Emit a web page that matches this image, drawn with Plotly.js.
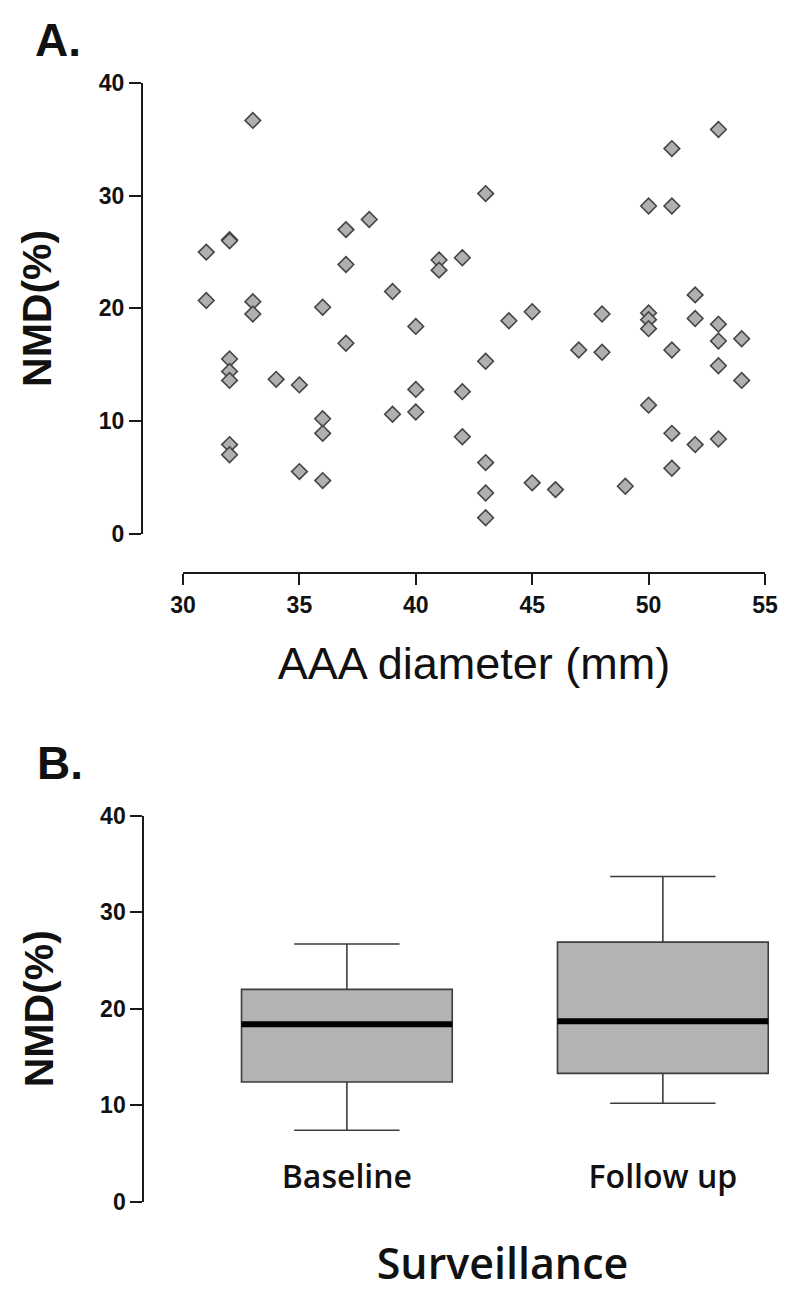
<!DOCTYPE html>
<html><head><meta charset="utf-8">
<script src="https://cdn.plot.ly/plotly-3.0.1.min.js"></script>
<style>html,body{margin:0;padding:0;background:#fff}#chart{width:800px;height:1301px}</style>
</head><body><div id="chart"></div>
<script>
// ---- Panel A data: AAA diameter (mm) vs NMD (%) ----
const aaaDiameter = [
  31, 31,
  32, 32, 32, 32, 32, 32, 32,
  33, 33, 33,
  34,
  35, 35,
  36, 36, 36, 36,
  37, 37, 37,
  38,
  39, 39,
  40, 40, 40,
  41, 41,
  42, 42, 42,
  43, 43, 43, 43, 43,
  44,
  45, 45,
  46,
  47,
  48, 48,
  49,
  50, 50, 50, 50, 50,
  51, 51, 51, 51, 51,
  52, 52, 52,
  53, 53, 53, 53, 53,
  54, 54
];
const nmdPercent = [
  25.0, 20.7,
  26.1, 26.0, 15.5, 14.4, 13.6, 7.9, 7.0,
  36.7, 20.6, 19.5,
  13.7,
  13.2, 5.5,
  20.1, 10.2, 8.9, 4.7,
  27.0, 23.9, 16.9,
  27.9,
  21.5, 10.6,
  18.4, 12.8, 10.8,
  24.3, 23.4,
  24.5, 12.6, 8.6,
  30.2, 15.3, 6.3, 3.6, 1.4,
  18.9,
  19.7, 4.5,
  3.9,
  16.3,
  19.5, 16.1,
  4.2,
  29.1, 19.6, 19.0, 18.2, 11.4,
  34.2, 29.1, 16.3, 8.9, 5.8,
  21.2, 19.1, 7.9,
  35.9, 18.6, 17.1, 14.9, 8.4,
  17.3, 13.6
];
const xTicksA = [30, 35, 40, 45, 50, 55];
const yTicks = [0, 10, 20, 30, 40];

// ---- Panel B data: box summary ----
const boxCategories = ['Baseline', 'Follow up'];
const boxPositions = [0, 1];
const boxLowerWhisker = [7.4, 10.2];
const boxQ1 = [12.4, 13.3];
const boxMedian = [18.4, 18.7];
const boxQ3 = [22.0, 26.9];
const boxUpperWhisker = [26.7, 33.7];

// ---- layout helpers (pixel -> paper) ----
const W = 800, H = 1301;
const fx = p => p / W;
const fy = p => 1 - p / H;
const BOX_W = 0.667;

const axisCol = '#1a1a1a';
const tickFont = {family: 'Liberation Sans, Arial, sans-serif', size: 23, color: '#111', weight: 'bold'};

const medX = [], medY = [];
boxPositions.forEach((p, i) => {
  medX.push(p - BOX_W / 2, p + BOX_W / 2, null);
  medY.push(boxMedian[i], boxMedian[i], null);
});

const traces = [
  {
    type: 'scatter', mode: 'markers',
    x: aaaDiameter, y: nmdPercent,
    xaxis: 'x', yaxis: 'y',
    cliponaxis: false,
    marker: {symbol: 'diamond', size: 12, color: '#b0b0b0', line: {color: '#454545', width: 1.6}},
    hoverinfo: 'x+y'
  },
  {
    type: 'box',
    x: boxPositions,
    q1: boxQ1, median: boxMedian, q3: boxQ3,
    lowerfence: boxLowerWhisker, upperfence: boxUpperWhisker,
    xaxis: 'x2', yaxis: 'y2',
    width: BOX_W, whiskerwidth: 0.5,
    fillcolor: '#b3b3b3',
    line: {color: '#3c3c3c', width: 1.6},
    boxpoints: false
  },
  {
    type: 'scatter', mode: 'lines',
    x: medX, y: medY,
    xaxis: 'x2', yaxis: 'y2',
    line: {color: '#000', width: 6},
    hoverinfo: 'skip'
  }
];

const baseAxis = {
  showgrid: false, zeroline: false, showline: true,
  linecolor: axisCol, linewidth: 2,
  ticks: 'outside', ticklen: 12, tickwidth: 2, tickcolor: axisCol,
  tickfont: tickFont, fixedrange: true
};

const layout = {
  width: W, height: H,
  margin: {l: 0, r: 0, t: 0, b: 0},
  paper_bgcolor: '#fff', plot_bgcolor: 'rgba(0,0,0,0)',
  showlegend: false,
  xaxis: Object.assign({}, baseAxis, {
    domain: [fx(183), fx(765)], range: [30, 55],
    anchor: 'free', position: fy(573),
    tickvals: xTicksA, ticklen: 11,
    title: {text: 'AAA diameter (mm)', font: {family: 'Liberation Sans, Arial, sans-serif', size: 45, color: '#111'}, standoff: 30}
  }),
  yaxis: Object.assign({}, baseAxis, {
    domain: [fy(533.5), fy(83.3)], range: [0, 40],
    anchor: 'free', position: fx(142),
    tickvals: yTicks,
    title: {text: 'NMD(%)', font: {family: 'Liberation Sans, Arial, sans-serif', size: 41, color: '#111', weight: 'bold'}, standoff: 33}
  }),
  xaxis2: {
    domain: [fx(205), 1], range: [-0.449, 1.434],
    anchor: 'free', position: fy(1155),
    showgrid: false, zeroline: false, showline: false, ticks: '',
    tickvals: boxPositions, ticktext: boxCategories,
    tickfont: {family: 'Open Sans, sans-serif', size: 32, color: '#111', weight: 600},
    title: {text: 'Surveillance', font: {family: 'Open Sans, sans-serif', size: 43, color: '#111', weight: 600}, standoff: 52},
    fixedrange: true
  },
  yaxis2: Object.assign({}, baseAxis, {
    domain: [fy(1201.7), fy(815.7)], range: [0, 40],
    anchor: 'free', position: fx(143.3),
    tickvals: yTicks,
    title: {text: 'NMD(%)', font: {family: 'Liberation Sans, Arial, sans-serif', size: 41, color: '#111', weight: 'bold'}, standoff: 33}
  }),
  annotations: [
    {text: 'A.', xref: 'paper', yref: 'paper', x: fx(33), y: fy(40), xanchor: 'left', yanchor: 'middle',
     showarrow: false, font: {family: 'Liberation Sans, Arial, sans-serif', size: 46, color: '#111', weight: 'bold'}},
    {text: 'B.', xref: 'paper', yref: 'paper', x: fx(35), y: fy(763), xanchor: 'left', yanchor: 'middle',
     showarrow: false, font: {family: 'Liberation Sans, Arial, sans-serif', size: 46, color: '#111', weight: 'bold'}}
  ]
};

Plotly.newPlot('chart', traces, layout, {displayModeBar: false, staticPlot: false});
</script>
</body></html>
